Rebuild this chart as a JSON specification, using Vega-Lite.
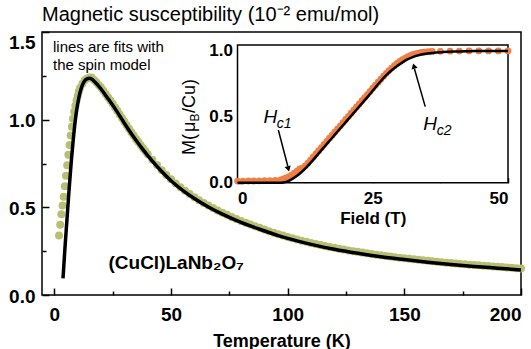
{
  "$schema": "https://vega.github.io/schema/vega-lite/v6.json",
  "width": 479,
  "height": 263,
  "autosize": "none",
  "padding": {"left": 42, "top": 32, "right": 10, "bottom": 54},
  "background": "white",
  "config": {
    "view": {"stroke": "black", "strokeWidth": 1.5},
    "font": "Liberation Sans",
    "axis": {"grid": false, "domain": false, "tickColor": "black", "tickWidth": 1.5, "labelColor": "black", "titleColor": "black", "labelFont": "Liberation Sans", "titleFont": "Liberation Sans"}
  },
  "title": {"text": "Magnetic susceptibility (10⁻² emu/mol)", "anchor": "start", "frame": "group", "offset": 6, "font": "Liberation Sans", "fontSize": 20, "fontWeight": "normal", "color": "black"},
  "datasets": {
    "obs": [
      {"T": 2.0, "chi": 0.34}, {"T": 2.5, "chi": 0.40}, {"T": 3.0, "chi": 0.46}, {"T": 3.5, "chi": 0.51}, {"T": 4.0, "chi": 0.56}, {"T": 4.5, "chi": 0.62}, {"T": 5.0, "chi": 0.68}, {"T": 5.5, "chi": 0.74}, {"T": 6.0, "chi": 0.80}, {"T": 6.5, "chi": 0.855}, {"T": 7.0, "chi": 0.91}, {"T": 7.5, "chi": 0.96}, {"T": 8.0, "chi": 1.005}, {"T": 8.5, "chi": 1.045}, {"T": 9.0, "chi": 1.08}, {"T": 9.5, "chi": 1.11}, {"T": 10, "chi": 1.135}, {"T": 10.5, "chi": 1.16}, {"T": 11, "chi": 1.18}, {"T": 12, "chi": 1.205}, {"T": 13, "chi": 1.225}, {"T": 14, "chi": 1.235}, {"T": 15, "chi": 1.24},
      {"T": 16, "chi": 1.24}, {"T": 17, "chi": 1.226}, {"T": 18, "chi": 1.213}, {"T": 19, "chi": 1.198}, {"T": 20, "chi": 1.183}, {"T": 21, "chi": 1.165}, {"T": 22, "chi": 1.147}, {"T": 23, "chi": 1.128}, {"T": 24, "chi": 1.109}, {"T": 25, "chi": 1.091}, {"T": 26, "chi": 1.071}, {"T": 27, "chi": 1.051}, {"T": 28, "chi": 1.03}, {"T": 29, "chi": 1.009}, {"T": 30, "chi": 0.988}, {"T": 31, "chi": 0.968}, {"T": 32, "chi": 0.948}, {"T": 33, "chi": 0.928}, {"T": 34, "chi": 0.909}, {"T": 35, "chi": 0.89}, {"T": 36, "chi": 0.872}, {"T": 37, "chi": 0.854}, {"T": 38, "chi": 0.837}, {"T": 39, "chi": 0.82}, {"T": 40, "chi": 0.803},
      {"T": 42, "chi": 0.771}, {"T": 44, "chi": 0.741}, {"T": 46, "chi": 0.712}, {"T": 48, "chi": 0.685}, {"T": 50, "chi": 0.66}, {"T": 52, "chi": 0.636}, {"T": 54, "chi": 0.615}, {"T": 56, "chi": 0.595}, {"T": 58, "chi": 0.576}, {"T": 60, "chi": 0.558}, {"T": 62, "chi": 0.541}, {"T": 64, "chi": 0.525}, {"T": 66, "chi": 0.51}, {"T": 68, "chi": 0.496}, {"T": 70, "chi": 0.482}, {"T": 72, "chi": 0.469}, {"T": 74, "chi": 0.457}, {"T": 76, "chi": 0.445}, {"T": 78, "chi": 0.433}, {"T": 80, "chi": 0.422}, {"T": 82, "chi": 0.412}, {"T": 84, "chi": 0.402}, {"T": 86, "chi": 0.392}, {"T": 88, "chi": 0.383}, {"T": 90, "chi": 0.373}, {"T": 92, "chi": 0.364}, {"T": 94, "chi": 0.355}, {"T": 96, "chi": 0.347}, {"T": 98, "chi": 0.339}, {"T": 100, "chi": 0.331},
      {"T": 102, "chi": 0.324}, {"T": 104, "chi": 0.317}, {"T": 106, "chi": 0.31}, {"T": 108, "chi": 0.303}, {"T": 110, "chi": 0.297}, {"T": 112, "chi": 0.291}, {"T": 114, "chi": 0.285}, {"T": 116, "chi": 0.279}, {"T": 118, "chi": 0.274}, {"T": 120, "chi": 0.269}, {"T": 122, "chi": 0.264}, {"T": 124, "chi": 0.259}, {"T": 126, "chi": 0.254}, {"T": 128, "chi": 0.25}, {"T": 130, "chi": 0.246}, {"T": 132, "chi": 0.242}, {"T": 134, "chi": 0.238}, {"T": 136, "chi": 0.234}, {"T": 138, "chi": 0.23}, {"T": 140, "chi": 0.226}, {"T": 142, "chi": 0.222}, {"T": 144, "chi": 0.219}, {"T": 146, "chi": 0.216}, {"T": 148, "chi": 0.213}, {"T": 150, "chi": 0.21},
      {"T": 152, "chi": 0.207}, {"T": 154, "chi": 0.204}, {"T": 156, "chi": 0.201}, {"T": 158, "chi": 0.198}, {"T": 160, "chi": 0.195}, {"T": 162, "chi": 0.192}, {"T": 164, "chi": 0.189}, {"T": 166, "chi": 0.187}, {"T": 168, "chi": 0.184}, {"T": 170, "chi": 0.182}, {"T": 172, "chi": 0.179}, {"T": 174, "chi": 0.177}, {"T": 176, "chi": 0.175}, {"T": 178, "chi": 0.173}, {"T": 180, "chi": 0.171}, {"T": 182, "chi": 0.169}, {"T": 184, "chi": 0.167}, {"T": 186, "chi": 0.165}, {"T": 188, "chi": 0.163}, {"T": 190, "chi": 0.161}, {"T": 192, "chi": 0.159}, {"T": 194, "chi": 0.157}, {"T": 196, "chi": 0.155}, {"T": 198, "chi": 0.153}, {"T": 200, "chi": 0.151}
    ],
    "fit": [
      {"T": 3.7, "chi": 0.095}, {"T": 4.5, "chi": 0.26}, {"T": 5.4, "chi": 0.43}, {"T": 6.3, "chi": 0.6}, {"T": 7.3, "chi": 0.77}, {"T": 8.2, "chi": 0.9}, {"T": 9, "chi": 1.0}, {"T": 10, "chi": 1.09}, {"T": 11, "chi": 1.155}, {"T": 12, "chi": 1.197}, {"T": 13, "chi": 1.222}, {"T": 14, "chi": 1.233}, {"T": 15, "chi": 1.236}, {"T": 16, "chi": 1.232}, {"T": 17.5, "chi": 1.213}, {"T": 20, "chi": 1.175}, {"T": 23, "chi": 1.12}, {"T": 26, "chi": 1.063}, {"T": 30, "chi": 0.98}, {"T": 34, "chi": 0.901}, {"T": 38, "chi": 0.829}, {"T": 42, "chi": 0.763}, {"T": 46, "chi": 0.704}, {"T": 50, "chi": 0.652}, {"T": 55, "chi": 0.597}, {"T": 60, "chi": 0.55}, {"T": 66, "chi": 0.502}, {"T": 72, "chi": 0.461}, {"T": 80, "chi": 0.414}, {"T": 88, "chi": 0.375}, {"T": 96, "chi": 0.339}, {"T": 104, "chi": 0.309}, {"T": 112, "chi": 0.283}, {"T": 120, "chi": 0.261}, {"T": 130, "chi": 0.238}, {"T": 140, "chi": 0.218}, {"T": 150, "chi": 0.202}, {"T": 160, "chi": 0.187}, {"T": 170, "chi": 0.174}, {"T": 180, "chi": 0.163}, {"T": 190, "chi": 0.153}, {"T": 200, "chi": 0.143}
    ],
    "mainText": [
      {"T": -0.6, "chi": 1.415, "label": "lines are fits with"},
      {"T": -0.6, "chi": 1.312, "label": "the spin model"}
    ],
    "compound": [
      {"T": 23.2, "chi": 0.183, "label": "(CuCl)LaNb₂O₇"}
    ],
    "frame": [
      {"H": 0, "H2": 50, "M": 0, "M2": 1.045}
    ],
    "mobs": [
      {"H": 0, "M": 0.012}, {"H": 1, "M": 0.012}, {"H": 2, "M": 0.013}, {"H": 3, "M": 0.013}, {"H": 4, "M": 0.014}, {"H": 5, "M": 0.015}, {"H": 6, "M": 0.016}, {"H": 7, "M": 0.018}, {"H": 8, "M": 0.022},
      {"H": 8.5, "M": 0.028}, {"H": 9, "M": 0.036}, {"H": 9.5, "M": 0.046}, {"H": 10, "M": 0.058}, {"H": 10.5, "M": 0.072}, {"H": 11, "M": 0.088}, {"H": 11.5, "M": 0.105}, {"H": 12, "M": 0.11}, {"H": 12.5, "M": 0.128}, {"H": 13, "M": 0.148}, {"H": 13.5, "M": 0.172}, {"H": 14, "M": 0.195}, {"H": 14.5, "M": 0.219}, {"H": 15, "M": 0.243}, {"H": 15.5, "M": 0.266}, {"H": 16, "M": 0.29}, {"H": 16.5, "M": 0.314}, {"H": 17, "M": 0.338}, {"H": 17.5, "M": 0.361}, {"H": 18, "M": 0.385}, {"H": 18.5, "M": 0.409}, {"H": 19, "M": 0.432}, {"H": 19.5, "M": 0.456}, {"H": 20, "M": 0.48}, {"H": 20.5, "M": 0.503}, {"H": 21, "M": 0.527}, {"H": 21.5, "M": 0.551}, {"H": 22, "M": 0.575}, {"H": 22.5, "M": 0.598}, {"H": 23, "M": 0.622}, {"H": 23.5, "M": 0.646}, {"H": 24, "M": 0.669}, {"H": 24.5, "M": 0.693}, {"H": 25, "M": 0.717}, {"H": 25.5, "M": 0.74}, {"H": 26, "M": 0.763}, {"H": 26.5, "M": 0.786}, {"H": 27, "M": 0.808}, {"H": 27.5, "M": 0.83}, {"H": 28, "M": 0.851}, {"H": 28.5, "M": 0.87}, {"H": 29, "M": 0.888}, {"H": 29.5, "M": 0.905}, {"H": 30, "M": 0.92}, {"H": 30.5, "M": 0.934}, {"H": 31, "M": 0.946}, {"H": 31.5, "M": 0.957}, {"H": 32, "M": 0.966}, {"H": 32.5, "M": 0.973}, {"H": 33, "M": 0.979}, {"H": 33.5, "M": 0.984}, {"H": 34, "M": 0.988}, {"H": 34.5, "M": 0.991}, {"H": 35, "M": 0.993}, {"H": 35.5, "M": 0.995}, {"H": 36, "M": 0.996},
      {"H": 37.5, "M": 0.997}, {"H": 39.3, "M": 0.998}, {"H": 41, "M": 0.999}, {"H": 42.8, "M": 1.0}, {"H": 44.6, "M": 1.0}, {"H": 46.4, "M": 1.0}, {"H": 48.2, "M": 1.0}, {"H": 50, "M": 1.0}
    ],
    "mfit": [
      {"H": 0, "M": 0}, {"H": 8, "M": 0}, {"H": 9, "M": 0.006}, {"H": 10, "M": 0.025}, {"H": 11, "M": 0.052}, {"H": 12, "M": 0.087}, {"H": 13, "M": 0.128}, {"H": 16, "M": 0.27}, {"H": 20, "M": 0.46}, {"H": 24, "M": 0.649}, {"H": 27.6, "M": 0.82}, {"H": 28.5, "M": 0.853}, {"H": 29.5, "M": 0.885}, {"H": 30.5, "M": 0.913}, {"H": 31.5, "M": 0.937}, {"H": 32.5, "M": 0.955}, {"H": 33.5, "M": 0.968}, {"H": 34.5, "M": 0.977}, {"H": 36, "M": 0.985}, {"H": 38, "M": 0.991}, {"H": 40, "M": 0.995}, {"H": 43, "M": 0.998}, {"H": 46, "M": 1.0}, {"H": 50, "M": 1.0}
    ],
    "arrows": [
      {"H": 7.55, "M": 0.40, "H2": 9.3, "M2": 0.125},
      {"H": 34.7, "M": 0.577, "H2": 32.7, "M2": 0.865}
    ],
    "heads": [
      {"H": 9.4, "M": 0.105, "angle": 165},
      {"H": 32.6, "M": 0.885, "angle": 344}
    ],
    "bigH": [
      {"H": 6.06, "M": 0.501, "label": "H"},
      {"H": 35.6, "M": 0.443, "label": "H"}
    ],
    "subH": [
      {"H": 8.6, "M": 0.446, "label": "c1"},
      {"H": 38.2, "M": 0.389, "label": "c2"}
    ],
    "ytitle": [
      {"H": -8.78, "M": 0.21, "label": "M(", "style": "normal"},
      {"H": -8.78, "M": 0.385, "label": "μ", "style": "italic"},
      {"H": -8.78, "M": 0.529, "label": "/Cu)", "style": "normal"}
    ],
    "ytitleSub": [
      {"H": -7.86, "M": 0.494, "label": "B"}
    ]
  },
  "layer": [
    {
      "layer": [
        {
          "data": {"name": "obs"},
          "mark": {"type": "circle", "size": 64, "color": "#b8bf73", "opacity": 1},
          "encoding": {
            "x": {"field": "T", "type": "quantitative", "scale": {"domain": [-5.3, 200], "nice": false, "zero": false},
              "axis": {"values": [0, 25, 50, 75, 100, 125, 150, 175, 200], "labelExpr": "datum.value % 50 === 0 ? datum.label : ''", "tickSize": {"condition": {"test": "datum.value % 50 === 0", "value": -7}, "value": -4}, "labelFlush": true, "labelPadding": 17, "labelFontSize": 19, "labelFontWeight": "bold", "title": "Temperature (K)", "titleFontSize": 18, "titleFontWeight": "bold", "titlePadding": 8}},
            "y": {"field": "chi", "type": "quantitative", "scale": {"domain": [0, 1.5], "nice": false, "zero": false},
              "axis": {"values": [0, 0.25, 0.5, 0.75, 1, 1.25, 1.5], "format": ".1f", "labelExpr": "datum.value * 2 === round(datum.value * 2) ? datum.label : ''", "tickSize": {"condition": {"test": "datum.value * 2 === round(datum.value * 2)", "value": -7}, "value": -4}, "labelBaseline": {"condition": {"test": "datum.value === 1.5", "value": "top"}, "value": "middle"}, "labelOffset": 1, "labelPadding": 14, "labelFontSize": 19, "labelFontWeight": "bold", "title": null}}
          }
        },
        {
          "data": {"name": "fit"},
          "mark": {"type": "line", "color": "black", "strokeWidth": 3.5, "interpolate": "monotone"},
          "encoding": {
            "x": {"field": "T", "type": "quantitative"},
            "y": {"field": "chi", "type": "quantitative"}
          }
        },
        {
          "data": {"name": "mainText"},
          "mark": {"type": "text", "align": "left", "baseline": "middle", "fontSize": 15, "font": "Liberation Sans", "color": "black"},
          "encoding": {
            "x": {"field": "T", "type": "quantitative"},
            "y": {"field": "chi", "type": "quantitative"},
            "text": {"field": "label"}
          }
        },
        {
          "data": {"name": "compound"},
          "mark": {"type": "text", "align": "left", "baseline": "middle", "fontSize": 19, "fontWeight": "bold", "font": "Liberation Sans", "color": "black"},
          "encoding": {
            "x": {"field": "T", "type": "quantitative"},
            "y": {"field": "chi", "type": "quantitative"},
            "text": {"field": "label"}
          }
        }
      ]
    },
    {
      "layer": [
        {
          "data": {"name": "frame"},
          "mark": {"type": "rect", "fill": "white", "stroke": "black", "strokeWidth": 1.5},
          "encoding": {
            "x": {"field": "H", "type": "quantitative", "scale": {"domain": [0, 50], "range": [195.5, 466], "nice": false, "zero": false},
              "axis": {"orient": "bottom", "offset": -112.3, "values": [0, 12.5, 25, 37.5, 50], "labelExpr": "datum.value % 25 === 0 ? datum.label : ''", "tickSize": -5, "labelPadding": 13, "labelFontSize": 17, "labelFontWeight": "bold", "title": "Field (T)", "titleFontSize": 17, "titleFontWeight": "bold", "titlePadding": 4}},
            "x2": {"field": "H2"},
            "y": {"field": "M", "type": "quantitative", "scale": {"domain": [0, 1.045], "range": [150.7, 13], "nice": false, "zero": false},
              "axis": {"orient": "left", "offset": -195.5, "values": [0, 0.25, 0.5, 0.75, 1], "format": ".1f", "labelExpr": "datum.value * 2 === round(datum.value * 2) ? datum.label : ''", "tickSize": -5, "labelPadding": 10, "labelFontSize": 17, "labelFontWeight": "bold", "title": null}},
            "y2": {"field": "M2"}
          }
        },
        {
          "data": {"name": "mobs"},
          "mark": {"type": "circle", "size": 46, "color": "#ef7f45", "opacity": 1},
          "encoding": {
            "x": {"field": "H", "type": "quantitative"},
            "y": {"field": "M", "type": "quantitative"}
          }
        },
        {
          "data": {"name": "mfit"},
          "mark": {"type": "line", "color": "black", "strokeWidth": 2.5, "interpolate": "monotone"},
          "encoding": {
            "x": {"field": "H", "type": "quantitative"},
            "y": {"field": "M", "type": "quantitative"}
          }
        },
        {
          "data": {"name": "arrows"},
          "mark": {"type": "rule", "color": "black", "strokeWidth": 1.5},
          "encoding": {
            "x": {"field": "H", "type": "quantitative"},
            "y": {"field": "M", "type": "quantitative"},
            "x2": {"field": "H2"},
            "y2": {"field": "M2"}
          }
        },
        {
          "data": {"name": "heads"},
          "mark": {"type": "point", "shape": "triangle-up", "filled": true, "size": 40, "color": "black", "opacity": 1},
          "encoding": {
            "x": {"field": "H", "type": "quantitative"},
            "y": {"field": "M", "type": "quantitative"},
            "angle": {"field": "angle", "type": "quantitative", "scale": null}
          }
        },
        {
          "data": {"name": "bigH"},
          "mark": {"type": "text", "align": "center", "baseline": "middle", "fontSize": 19, "fontStyle": "italic", "font": "Liberation Sans", "color": "black"},
          "encoding": {
            "x": {"field": "H", "type": "quantitative"},
            "y": {"field": "M", "type": "quantitative"},
            "text": {"field": "label"}
          }
        },
        {
          "data": {"name": "subH"},
          "mark": {"type": "text", "align": "center", "baseline": "middle", "fontSize": 14, "fontStyle": "italic", "font": "Liberation Sans", "color": "black"},
          "encoding": {
            "x": {"field": "H", "type": "quantitative"},
            "y": {"field": "M", "type": "quantitative"},
            "text": {"field": "label"}
          }
        },
        {
          "data": {"name": "ytitle"},
          "mark": {"type": "text", "align": "left", "baseline": "middle", "angle": 270, "fontSize": 18, "font": "Liberation Sans", "color": "black"},
          "encoding": {
            "x": {"field": "H", "type": "quantitative"},
            "y": {"field": "M", "type": "quantitative"},
            "text": {"field": "label"},
            "fontStyle": {"field": "style", "type": "nominal", "scale": null}
          }
        },
        {
          "data": {"name": "ytitleSub"},
          "mark": {"type": "text", "align": "center", "baseline": "middle", "angle": 270, "fontSize": 12, "font": "Liberation Sans", "color": "black"},
          "encoding": {
            "x": {"field": "H", "type": "quantitative"},
            "y": {"field": "M", "type": "quantitative"},
            "text": {"field": "label"}
          }
        }
      ]
    }
  ],
  "resolve": {"scale": {"x": "independent", "y": "independent"}, "axis": {"x": "independent", "y": "independent"}}
}
